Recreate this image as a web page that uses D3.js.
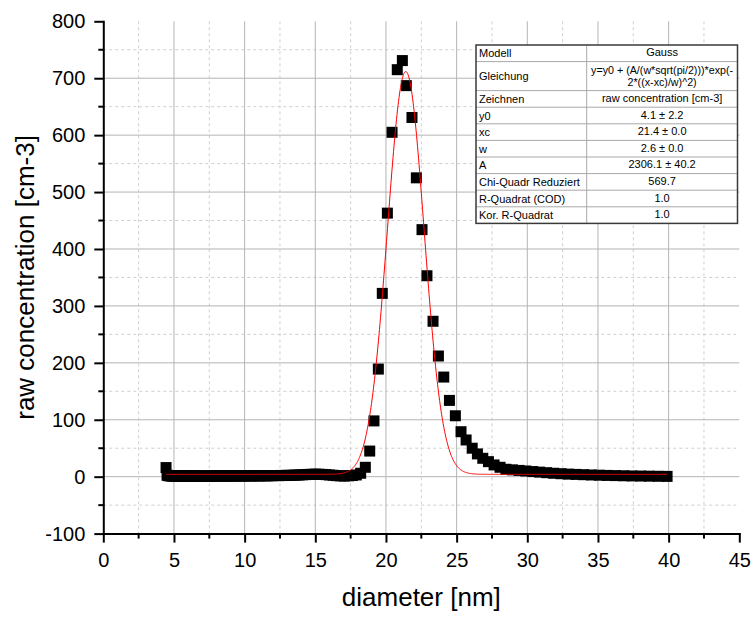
<!DOCTYPE html>
<html>
<head>
<meta charset="utf-8">
<script src="https://cdn.jsdelivr.net/npm/d3@7"></script>
<style>
  html, body { margin: 0; padding: 0; background: #ffffff; }
  svg { display: block; font-family: Arial, "Liberation Sans", sans-serif; }
</style>
</head>
<body>
<svg id="chart" width="751" height="617"></svg>
<script>
// Particle size distribution: measured diameters (nm) and raw concentration (cm-3)
const diameter = [
  4.44, 4.51, 4.59, 4.66, 4.73, 4.81, 4.89, 4.97, 5.05, 5.13,
  5.21, 5.30, 5.38, 5.47, 5.56, 5.65, 5.74, 5.83, 5.92, 6.02,
  6.12, 6.22, 6.32, 6.42, 6.52, 6.63, 6.73, 6.84, 6.95, 7.07,
  7.18, 7.30, 7.41, 7.53, 7.66, 7.78, 7.90, 8.03, 8.16, 8.29,
  8.43, 8.56, 8.70, 8.84, 8.99, 9.13, 9.28, 9.43, 9.58, 9.74,
  9.89, 10.05, 10.22, 10.38, 10.55, 10.72, 10.89, 11.07, 11.25, 11.43,
  11.61, 11.80, 11.99, 12.19, 12.38, 12.58, 12.79, 12.99, 13.20, 13.42,
  13.63, 13.85, 14.08, 14.30, 14.54, 14.77, 15.01, 15.25, 15.50, 15.75,
  16.00, 16.26, 16.52, 16.79, 17.06, 17.34, 17.62, 17.90,
  18.21, 18.54, 18.85, 19.15, 19.46, 19.74, 20.10, 20.43, 20.80, 21.16,
  21.44, 21.84, 22.15, 22.55, 22.90, 23.33, 23.71, 24.09, 24.49, 24.91,
  25.31, 25.67, 26.10, 26.47, 26.85, 27.25, 27.65, 28.07, 28.49,
  28.95, 29.42, 29.89, 30.38, 30.87, 31.37, 31.87, 32.39, 32.91, 33.44,
  33.98, 34.53, 35.09, 35.66, 36.23, 36.82, 37.41, 38.02, 38.63, 39.25, 39.89
];
const concentration = [
  16,
  2.5, 2.0, 1.6, 1.8, 1.4, 1.2, 1.5, 1.3, 1.0, 1.2,
  1.4, 1.1, 0.9, 1.3, 1.0, 1.2, 0.8, 1.1, 1.4, 1.0,
  0.9, 1.2, 1.0, 1.3, 1.1, 0.8, 1.0, 1.2, 0.9, 1.1,
  1.3, 1.0, 0.9, 1.2, 1.4, 1.1, 1.0, 1.3, 1.2, 1.5,
  1.1, 1.4, 1.2, 1.0, 1.3, 1.6, 1.2, 1.4, 1.1, 1.5,
  1.3, 1.6, 1.4, 1.2, 1.7, 1.5, 1.3, 1.8, 1.6, 1.4,
  1.9, 1.7, 2.0, 1.8, 2.2, 2.0, 2.4, 2.3, 2.6, 2.8, 3.0,
  3.3, 3.6, 4.0, 4.2, 4.4, 4.3, 4.0, 3.6, 3.0, 2.5,
  1.8, 1.4, 1.2, 1.5, 2.0, 3.0,
  6, 16.5, 45, 98, 189, 322, 463, 605, 715, 731,
  687, 631, 525, 434, 353, 273, 212, 175, 134, 107,
  79, 64.5, 50, 40, 32.3, 26.4, 20.6, 16.5, 13,
  12, 11, 10, 9, 8, 7, 6, 5.2, 4.5, 4,
  3.5, 3, 2.6, 2.2, 1.9, 1.6, 1.3, 1.1, 0.9, 0.7, 0.5
];

// Gauss fit parameters: y = y0 + A/(w*sqrt(pi/2)) * exp(-2*((x-xc)/w)^2)
const fitY0 = 4.1;
const fitXc = 21.4;
const fitW = 2.6;
const fitA = 2306.1;

// Axis ticks
const xTicks = [0, 5, 10, 15, 20, 25, 30, 35, 40, 45];
const yTicks = [-100, 0, 100, 200, 300, 400, 500, 600, 700, 800];
const xMinorTicks = [2.5, 7.5, 12.5, 17.5, 22.5, 27.5, 32.5, 37.5, 42.5];
const yMinorTicks = [-50, 50, 150, 250, 350, 450, 550, 650, 750];

// Fit result table
const tableLabels = ["Modell", "Gleichung", "Zeichnen", "y0", "xc", "w", "A",
  "Chi-Quadr Reduziert", "R-Quadrat (COD)", "Kor. R-Quadrat"];
const tableValues = [["Gauss"], ["y=y0 + (A/(w*sqrt(pi/2)))*exp(-", "2*((x-xc)/w)^2)"],
  ["raw concentration [cm-3]"], ["4.1 \u00b1 2.2"], ["21.4 \u00b1 0.0"], ["2.6 \u00b1 0.0"],
  ["2306.1 \u00b1 40.2"], ["569.7"], ["1.0"], ["1.0"]];

const svg = d3.select("#chart");
const plotL = 103.3, plotR = 739.3, plotT = 21.3, plotB = 533.6;

const x = d3.scaleLinear().domain([0, 45]).range([plotL, plotR]);
const y = d3.scaleLinear().domain([-100, 800]).range([plotB, plotT]);

// Grid
const grid = svg.append("g");
grid.selectAll(".gxm").data(xMinorTicks).join("line")
  .attr("x1", d => x(d)).attr("x2", d => x(d)).attr("y1", plotT).attr("y2", plotB)
  .attr("stroke", "#cfcfcf").attr("stroke-width", 1).attr("stroke-dasharray", "3,3");
grid.selectAll(".gym").data(yMinorTicks).join("line")
  .attr("x1", plotL).attr("x2", plotR).attr("y1", d => y(d)).attr("y2", d => y(d))
  .attr("stroke", "#cfcfcf").attr("stroke-width", 1).attr("stroke-dasharray", "3,3");
grid.selectAll(".gx").data(xTicks.filter(d => d > 0 && d < 45)).join("line")
  .attr("x1", d => x(d)).attr("x2", d => x(d)).attr("y1", plotT).attr("y2", plotB)
  .attr("stroke", "#b4b4b4").attr("stroke-width", 1);
grid.selectAll(".gy").data(yTicks.filter(d => d > -100 && d < 800)).join("line")
  .attr("x1", plotL).attr("x2", plotR).attr("y1", d => y(d)).attr("y2", d => y(d))
  .attr("stroke", "#b4b4b4").attr("stroke-width", 1);

// Data points as filled squares
const sq = 11;
svg.append("g").selectAll("rect").data(diameter).join("rect")
  .attr("x", (d) => x(d) - sq / 2)
  .attr("y", (d, i) => y(concentration[i]) - sq / 2)
  .attr("width", sq).attr("height", sq)
  .attr("fill", "#000");

// Gauss fit curve over the measured diameter range
const gauss = v => fitY0 + fitA / (fitW * Math.sqrt(Math.PI / 2)) * Math.exp(-2 * Math.pow((v - fitXc) / fitW, 2));
const xs = d3.range(0, 1001).map(k => diameter[0] + (diameter[diameter.length - 1] - diameter[0]) * k / 1000);
svg.append("path")
  .datum(xs)
  .attr("fill", "none")
  .attr("stroke", "#ff0000")
  .attr("stroke-width", 1)
  .attr("d", d3.line().x(d => x(d)).y(d => y(gauss(d))));

// Axes (plain hyphen for negative tick labels)
const plainFmt = d => String(d);
const yAxis = svg.append("g").attr("transform", `translate(${plotL},0)`)
  .call(d3.axisLeft(y).tickValues(yTicks).tickFormat(plainFmt).tickSize(9).tickSizeOuter(0).tickPadding(9));
const xAxis = svg.append("g").attr("transform", `translate(0,${plotB})`)
  .call(d3.axisBottom(x).tickValues(xTicks).tickFormat(plainFmt).tickSize(9).tickSizeOuter(0).tickPadding(10));
[xAxis, yAxis].forEach(g => {
  g.select(".domain").attr("stroke", "#000").attr("stroke-width", 2).attr("stroke-linecap", "square");
  g.selectAll(".tick line").attr("stroke", "#000").attr("stroke-width", 2);
  g.selectAll(".tick text").attr("fill", "#000").style("font-size", "20px")
    .style("font-family", "Arial, 'Liberation Sans', sans-serif");
});
svg.append("g").selectAll("line").data(yMinorTicks).join("line")
  .attr("x1", plotL - 5).attr("x2", plotL).attr("y1", d => y(d)).attr("y2", d => y(d))
  .attr("stroke", "#000").attr("stroke-width", 2);
svg.append("g").selectAll("line").data(xMinorTicks).join("line")
  .attr("x1", d => x(d)).attr("x2", d => x(d)).attr("y1", plotB).attr("y2", plotB + 5)
  .attr("stroke", "#000").attr("stroke-width", 2);

// Axis titles
svg.append("text")
  .attr("transform", `translate(33.5,${(plotT + plotB) / 2}) rotate(-90)`)
  .attr("text-anchor", "middle")
  .style("font-size", "26px").attr("fill", "#000")
  .text("raw concentration [cm-3]");
svg.append("text")
  .attr("x", (plotL + plotR) / 2).attr("y", 606)
  .attr("text-anchor", "middle")
  .style("font-size", "26px").attr("fill", "#000")
  .text("diameter [nm]");

// Fit result table
const tX0 = 476, tX1 = 737.5, tXc = 586.7, tY0 = 45;
const rowH = tableValues.map(v => v.length > 1 ? 29 : 16.6);
const rowTop = [];
rowH.reduce((acc, h) => { rowTop.push(acc); return acc + h; }, tY0);
const tY1 = rowTop[rowTop.length - 1] + rowH[rowH.length - 1];
const table = svg.append("g");
table.append("rect").attr("x", tX0).attr("y", tY0).attr("width", tX1 - tX0).attr("height", tY1 - tY0)
  .attr("fill", "#fff");
table.selectAll(".rl").data(rowTop.slice(1)).join("line")
  .attr("x1", tX0).attr("x2", tX1).attr("y1", d => d).attr("y2", d => d)
  .attr("stroke", "#a8a8a8").attr("stroke-width", 1);
table.append("line").attr("x1", tXc).attr("x2", tXc).attr("y1", tY0).attr("y2", tY1)
  .attr("stroke", "#a8a8a8").attr("stroke-width", 1);
table.append("rect").attr("x", tX0).attr("y", tY0).attr("width", tX1 - tX0).attr("height", tY1 - tY0)
  .attr("fill", "none").attr("stroke", "#3a3a3a").attr("stroke-width", 1.5);

tableLabels.forEach((lab, i) => {
  const single = tableValues[i].length === 1;
  table.append("text")
    .attr("x", tX0 + 3)
    .attr("y", single ? rowTop[i] + 12.3 : rowTop[i] + rowH[i] / 2 + 4)
    .style("font-size", "11px").attr("fill", "#000")
    .text(lab);
  tableValues[i].forEach((val, j) => {
    table.append("text")
      .attr("x", (tXc + tX1) / 2)
      .attr("y", single ? rowTop[i] + 11.3 : rowTop[i] + 12.5 + j * 12)
      .attr("text-anchor", "middle")
      .style("font-size", single ? "11px" : "10.7px").attr("fill", "#000")
      .text(val);
  });
});
</script>
</body>
</html>
